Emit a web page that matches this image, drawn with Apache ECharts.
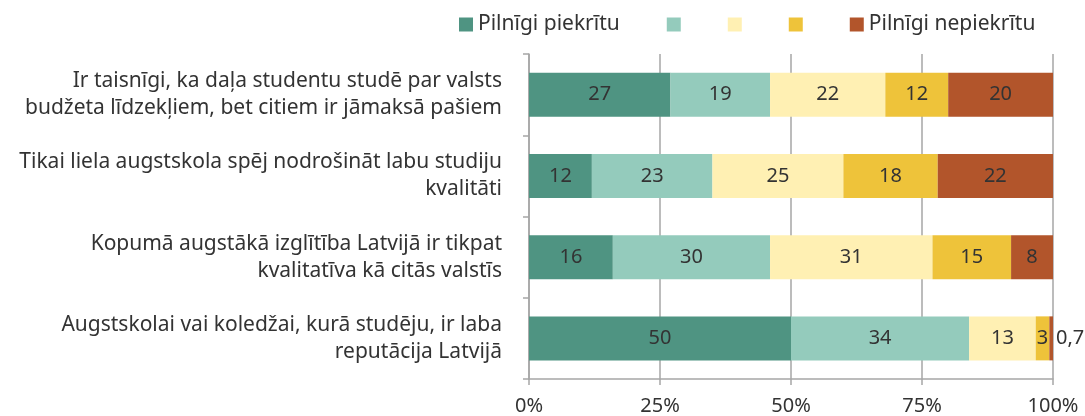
<!doctype html>
<html>
<head>
<meta charset="utf-8">
<script src="https://cdn.jsdelivr.net/npm/echarts@6/dist/echarts.min.js"></script>
<style>
  html, body { margin: 0; padding: 0; background: #fff; }
  #chart { width: 1085px; height: 416px; }
</style>
</head>
<body>
<div id="chart"></div>
<script>
  var categories = [
    'Ir taisnīgi, ka daļa studentu studē par valsts\nbudžeta līdzekļiem, bet citiem ir jāmaksā pašiem',
    'Tikai liela augstskola spēj nodrošināt labu studiju\nkvalitāti',
    'Kopumā augstākā izglītība Latvijā ir tikpat\nkvalitatīva kā citās valstīs',
    'Augstskolai vai koledžai, kurā studēju, ir laba\nreputācija Latvijā'
  ];
  var seriesNames = ['Pilnīgi piekrītu', 's2', 's3', 's4', 'Pilnīgi nepiekrītu'];
  var legendText = ['Pilnīgi piekrītu', '', '', '', 'Pilnīgi nepiekrītu'];
  var colors = ['#4f9482', '#94cbbc', '#fff0b3', '#eec33a', '#b2552b'];

  var fullyAgree = [27, 12, 16, 50];
  var agree = [19, 23, 30, 34];
  var neutral = [22, 25, 31, 12.7];
  var disagree = [12, 18, 15, 2.6];
  var fullyDisagree = [20, 22, 8, 0.7];
  var xTicks = [0, 25, 50, 75, 100];

  var values = [fullyAgree, agree, neutral, disagree, fullyDisagree];
  var font = 'Noto Sans';

  var series = values.map(function (vals, i) {
    return {
      name: seriesNames[i],
      type: 'bar',
      stack: 'total',
      barWidth: 44,
      itemStyle: { color: colors[i] },
      label: {
        show: true,
        position: 'inside',
        color: '#333',
        fontFamily: font,
        fontSize: 20,
        formatter: function (p) { return Math.round(p.value); }
      },
      data: vals.map(function (v, j) {
        if (i === 4 && j === 3) {
          return {
            value: v,
            label: {
              position: 'right',
              distance: 3,
              formatter: function (p) { return String(p.value).replace('.', ','); }
            }
          };
        }
        return v;
      })
    };
  });

  var chart = echarts.init(document.getElementById('chart'));
  chart.setOption({
    animation: false,
    textStyle: { fontFamily: font },
    legend: {
      left: 454,
      top: 9,
      itemWidth: 14,
      itemHeight: 14,
      itemGap: 47,
      icon: 'rect',
      data: seriesNames,
      formatter: function (name) { return legendText[seriesNames.indexOf(name)]; },
      textStyle: { fontFamily: font, fontSize: 21, color: '#333' }
    },
    grid: { left: 529, right: 32, top: 54, bottom: 36 },
    xAxis: {
      type: 'value',
      min: 0,
      max: 100,
      interval: 25,
      axisLine: { show: true, lineStyle: { color: '#a6a6a6', width: 1.5 } },
      axisTick: { show: true, length: 6, lineStyle: { color: '#a6a6a6', width: 1.5 } },
      splitLine: { show: true, lineStyle: { color: '#a6a6a6', width: 1.5 } },
      axisLabel: {
        color: '#333',
        fontSize: 20,
        margin: 17,
        formatter: function (v) { return xTicks.indexOf(v) >= 0 ? v + '%' : ''; }
      }
    },
    yAxis: {
      type: 'category',
      inverse: true,
      data: categories,
      axisLine: { show: true, lineStyle: { color: '#a6a6a6', width: 1.5 } },
      axisTick: { show: true, length: 6, lineStyle: { color: '#a6a6a6', width: 1.5 } },
      axisLabel: {
        color: '#333',
        fontSize: 21,
        lineHeight: 27,
        margin: 27,
        align: 'right'
      }
    },
    series: series
  });
</script>
</body>
</html>
